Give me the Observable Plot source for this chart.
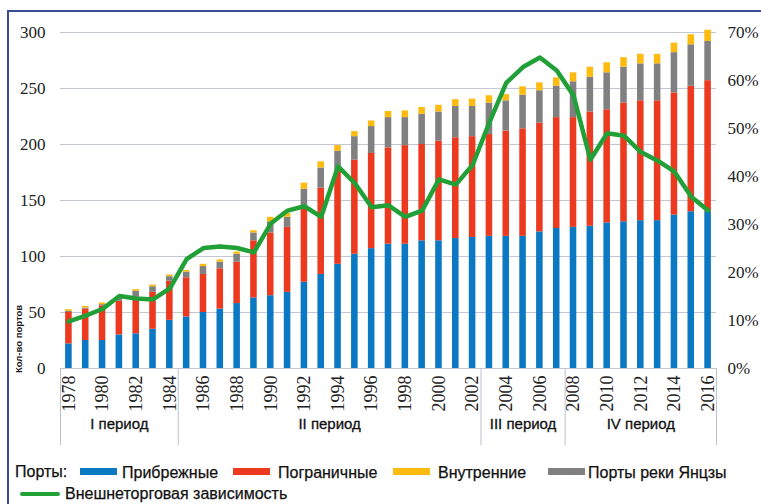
<!DOCTYPE html>
<html>
<head>
<meta charset="utf-8">
<script src="https://cdn.jsdelivr.net/npm/d3@7"></script>
<script src="https://cdn.jsdelivr.net/npm/@observablehq/plot@0.6"></script>
<style>
  body { margin: 0; background: #fff; }
  #wrap { position: relative; width: 761px; height: 504px; overflow: hidden; background: #fff; }
  #chart { position: absolute; left: 0; top: 0; }
  .frameTop { position: absolute; left: 7px; top: 10px; width: 760px; height: 2px; background: #3c4c94; }
  .frameLeft { position: absolute; left: 7px; top: 10px; width: 2px; height: 500px; background: #3c4c94; }
  .leg { position: absolute; font-family: "Liberation Sans", Arial, sans-serif; font-size: 16px; color: #111; line-height: 1; white-space: nowrap; -webkit-text-stroke: 0.25px #111; }
  .sw { position: absolute; height: 6px; }
</style>
</head>
<body>
<div id="wrap">
  <div id="chart"></div>
  <div class="frameTop"></div>
  <div class="frameLeft"></div>
</div>
<script>
// ---- data ----
const years = [1978,1979,1980,1981,1982,1983,1984,1985,1986,1987,
               1988,1989,1990,1991,1992,1993,1994,1995,1996,1997,
               1998,1999,2000,2001,2002,2003,2004,2005,2006,2007,
               2008,2009,2010,2011,2012,2013,2014,2015,2016];
const seriesNames = ["Прибрежные", "Пограничные", "Внутренние", "Порты реки Янцзы"];
const coastal = [22,25,25,30,31,35,43,46,50,53,
                 58,63,65,68,77,84,93,102,107,111,
                 111,114,114,116,117,118,118,118,122,125,
                 126,127,130,131,132,132,137,140,140];
const border  = [28,28,31,30,33,33,35,35,34,36,
                 37,51,56,58,65,77,84,84,85,86,
                 88,86,89,90,90,91,94,96,97,99,
                 98,102,101,106,107,107,109,112,117];
const inland  = [1.5,1.5,1.5,1.5,1.5,1.5,1.5,1.5,2,2,
                 2,2,4,3.5,5.5,5.5,5,4.5,5,5.5,
                 6,6,6,6,6.5,6.5,5.5,7.5,7,7.5,
                 8,9,9,8.5,8.5,8.5,8.5,9,10];
const yangtze = [1,1,1,3,5,5,4,5,7,6,
                 7,7,10,9,18,18,17,21,24,27,
                 25,27,26,28,27,28,27,30,29,28,
                 32,31,33,32,33,33,36,37,35];
const dependence = [9.8,11,12.4,15.1,14.6,14.4,16.7,22.8,25.1,25.4,
                    25.1,24.2,30.2,32.9,33.8,31.6,42.1,38.6,33.6,34,
                    31.6,32.9,39.4,38.3,42.4,51.3,59.5,62.8,64.8,62.1,
                    56.9,43.5,49,48.5,45.1,43.3,41,35.8,32.9];
const yTicks = [0,50,100,150,200,250,300];
const pctTicks = [0,10,20,30,40,50,60,70];
const yearTicks = [1978,1980,1982,1984,1986,1988,1990,1992,1994,1996,1998,2000,2002,2004,2006,2008,2010,2012,2014,2016];
const periodStarts = [1978, 1985, 2003, 2008];
const periodEnd = 2016;
const periodLabels = ["I период", "II период", "III период", "IV период"];
const periodCenters = [1981, 1993, 2005, 2012]; // II is centred between 1993 and 1994
const colors = ["#0b78c3", "#ec3a20", "#fdbb10", "#808080"];
const lineColor = "#21a038";

// ---- build tables ----
const stackOrder = ["Прибрежные", "Пограничные", "Порты реки Янцзы", "Внутренние"];
const valuesBySeries = {"Прибрежные": coastal, "Пограничные": border, "Внутренние": inland, "Порты реки Янцзы": yangtze};
const long = [];
years.forEach((yr, i) => {
  for (const s of stackOrder) long.push({year: yr, series: s, value: valuesBySeries[s][i]});
});
const pctMax = 70, cntMax = 300;
const lineData = years.map((yr, i) => ({year: yr, v: dependence[i] * cntMax / pctMax}));

const W = 761, H = 450, mL = 60, mR = 45, mT = 32, mB = 82;
const step = (W - mL - mR) / years.length;
const serif = "'Liberation Serif', 'DejaVu Serif', 'Times New Roman', serif";
const sans = "'Liberation Sans', Arial, sans-serif";

const periods = periodLabels.map((t, i) => ({label: t, year: periodCenters[i]}));

const plot = Plot.plot({
  width: W, height: H,
  marginLeft: mL, marginRight: mR, marginTop: mT, marginBottom: mB,
  style: {fontFamily: serif, fontSize: "17px", color: "#222", background: "transparent", overflow: "visible"},
  x: {type: "band", domain: years, paddingInner: 0.61, paddingOuter: 0.305},
  y: {domain: [0, cntMax]},
  color: {domain: seriesNames, range: colors},
  marks: [
    Plot.ruleY(yTicks, {stroke: "#c3c7d2", strokeWidth: 1}),
    Plot.barY(long, {x: "year", y: "value", fill: "series", order: stackOrder}),
    Plot.line(lineData, {x: "year", y: "v", stroke: lineColor, strokeWidth: 4.5, strokeLinejoin: "round", strokeLinecap: "round"}),
    Plot.axisY(yTicks, {anchor: "left", tickSize: 0, tickPadding: 15, label: null, fontFamily: serif, fontSize: 17}),
    Plot.axisY(pctTicks.map(p => p * cntMax / pctMax), {anchor: "right", tickSize: 0, tickPadding: 11, label: null, fontFamily: serif, fontSize: 17,
      tickFormat: v => Math.round(v * pctMax / cntMax) + "%"}),
    Plot.axisX(yearTicks, {anchor: "bottom", tickRotate: -90, tickSize: 0, tickPadding: 7, label: null, fontFamily: serif, fontSize: 18, tickFormat: d => String(d)}),
    Plot.ruleX(periodStarts, {x: d => d, y1: 0, y2: -69, dx: -step / 2, stroke: "#bcc1cf", strokeWidth: 1}),
    Plot.ruleX([periodEnd], {x: d => d, y1: 0, y2: -69, dx: step / 2, stroke: "#bcc1cf", strokeWidth: 1}),
    Plot.text(periods.filter((d, i) => i !== 1), {x: "year", y: -50, text: "label", fontFamily: sans, fontSize: 15, fill: "#111", stroke: "#111", strokeWidth: 0.3}),
    Plot.text(periods.filter((d, i) => i === 1), {x: "year", y: -50, text: "label", dx: step / 2, fontFamily: sans, fontSize: 15, fill: "#111", stroke: "#111", strokeWidth: 0.3})
  ]
});

d3.select(plot).append("text")
  .attr("transform", "translate(19,339) rotate(-90)")
  .attr("text-anchor", "middle")
  .attr("dominant-baseline", "middle")
  .style("font-family", sans)
  .style("font-size", "9.5px")
  .style("font-weight", "bold")
  .attr("fill", "#1a1a1a")
  .text("Кол-во портов");

document.getElementById("chart").appendChild(plot);

// ---- legend ----
const wrap = document.getElementById("wrap");
function addText(txt, left, top) {
  const d = document.createElement("div");
  d.className = "leg"; d.textContent = txt;
  d.style.left = left + "px"; d.style.top = top + "px";
  wrap.appendChild(d);
}
function addSwatch(color, left, top, width, h, radius) {
  const d = document.createElement("div");
  d.className = "sw"; d.style.background = color;
  d.style.left = left + "px"; d.style.top = top + "px"; d.style.width = width + "px";
  d.style.height = h + "px"; if (radius) d.style.borderRadius = radius + "px";
  wrap.appendChild(d);
}
addText("Порты:", 15, 464);
const legPos = [[80, 122], [233, 278], [393, 438], [548, 588]];
const legOrder = ["Прибрежные", "Пограничные", "Внутренние", "Порты реки Янцзы"];
legOrder.forEach((s, i) => {
  addSwatch(colors[seriesNames.indexOf(s)], legPos[i][0], 468, 37, 7);
  addText(s, legPos[i][1], 465);
});
addSwatch(lineColor, 20, 492, 40, 4, 2);
addText("Внешнеторговая зависимость", 65, 486);
</script>
</body>
</html>
